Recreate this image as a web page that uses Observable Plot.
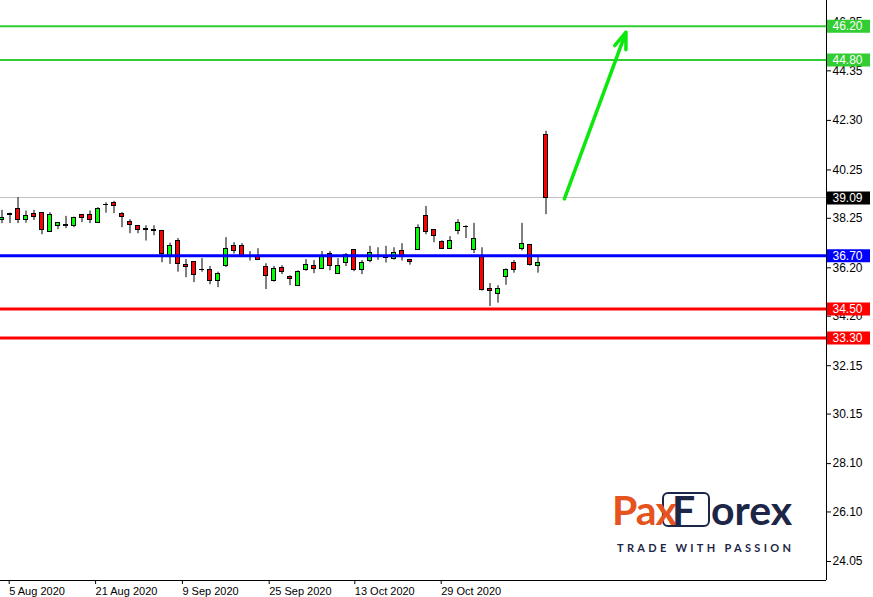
<!DOCTYPE html>
<html>
<head>
<meta charset="utf-8">
<script src="https://cdn.jsdelivr.net/npm/d3@7"></script>
<script src="https://cdn.jsdelivr.net/npm/@observablehq/plot@0.6"></script>
<style>
  html, body { margin: 0; padding: 0; background: #fff; }
  #wrap { position: relative; width: 873px; height: 597px; overflow: hidden; }
  #logo { position: absolute; left: 0; top: 0; width: 873px; height: 597px; pointer-events: none; font-family: Lato, "Open Sans", sans-serif; }
  #logo span, #logo div { position: absolute; white-space: nowrap; }
  #logo .pax { left: 612px; top: 486px; font-size: 41px; font-weight: 700; color: #e5531f; line-height: 48px; letter-spacing: -1px; }
  #logo .fbox { left: 662px; top: 492px; width: 44px; height: 31px; border: 2.5px solid #1d2646; border-radius: 6px; }
  #logo .f { left: 672px; top: 486px; font-size: 41px; font-weight: 700; color: #1d2646; line-height: 48px; }
  #logo .orex { left: 711px; top: 486px; font-size: 41px; font-weight: 700; color: #1d2646; line-height: 48px; letter-spacing: 0px; }
  #logo .tag { left: 617px; top: 541px; font-size: 11px; font-weight: 700; color: #1d2646; letter-spacing: 3.3px; line-height: 14px; }
</style>
</head>
<body>
<div id="wrap">
  <div id="chart"></div>
  <div id="logo">
    <div class="fbox"></div>
    <span class="pax">Pax</span><span class="f">F</span><span class="orex">orex</span>
    <div class="tag">TRADE WITH PASSION</div>
  </div>
</div>
<script>
// Daily candles (bar index 0..68)
const open  = [38.19,38.40,38.65,38.19,38.41,38.48,37.68,37.94,37.95,37.94,38.37,38.37,38.07,38.80,38.89,38.41,38.11,37.94,37.79,37.75,37.74,36.70,37.32,36.33,36.45,36.10,36.12,35.65,36.29,37.12,37.12,36.71,36.64,36.25,35.65,36.21,35.83,35.46,36.12,36.29,36.16,36.79,35.96,36.41,36.95,36.12,36.50,36.65,36.63,36.56,36.91,36.54,36.95,38.36,37.78,37.28,36.99,37.74,37.90,36.95,36.69,35.34,35.11,35.82,36.41,36.99,37.16,36.29,41.71];
const high  = [38.58,38.46,39.10,38.55,38.58,38.49,38.48,38.08,38.33,38.30,38.41,38.55,38.69,38.89,38.95,38.48,38.19,37.95,37.94,37.94,37.75,37.22,37.41,36.54,36.46,36.58,36.26,36.02,37.45,37.24,37.20,36.87,36.99,36.37,36.26,36.29,35.87,36.08,36.54,36.50,36.87,36.87,36.58,36.79,36.96,36.50,37.09,37.03,37.09,37.03,37.20,36.55,37.98,38.74,37.79,37.32,37.49,38.19,37.94,38.04,37.03,35.55,35.46,36.16,36.50,38.04,37.17,36.64,41.85];
const low   = [38.03,38.03,38.03,38.05,38.16,37.57,37.67,37.78,37.82,37.86,38.07,38.03,38.06,38.46,38.44,37.86,37.61,37.61,37.31,37.53,36.41,36.34,36.02,35.79,35.59,36.02,35.50,35.38,36.21,36.77,36.62,36.48,36.51,35.30,35.61,35.92,35.46,35.42,36.06,35.96,36.15,36.08,35.92,36.25,36.04,35.92,36.41,36.51,36.40,36.52,36.48,36.31,36.92,37.57,37.24,36.98,36.98,37.57,37.41,36.79,35.24,34.60,34.74,35.48,35.98,36.90,36.27,35.98,38.40];
const close = [38.27,38.41,38.19,38.33,38.32,37.78,38.37,38.07,37.96,38.27,38.27,38.19,38.65,38.81,38.77,38.32,37.98,37.78,37.78,37.74,36.79,37.12,36.34,36.25,35.92,36.09,35.65,35.96,36.99,36.91,36.70,36.70,36.54,35.87,36.16,36.04,35.75,36.04,36.33,36.16,36.70,36.29,36.29,36.74,36.12,36.41,36.83,36.64,36.62,36.83,36.64,36.45,37.86,37.70,37.53,36.99,37.32,38.07,37.89,37.41,35.28,35.26,35.34,36.12,36.12,37.20,36.33,36.41,39.09];

// Axis ticks
const xTickLabels = ["5 Aug 2020","21 Aug 2020","9 Sep 2020","25 Sep 2020","13 Oct 2020","29 Oct 2020"];
const xTickPos    = [0.9, 11.7, 22.55, 33.4, 44.1, 54.9];
const yTicks      = [24.05,26.10,28.10,30.15,32.15,34.20,36.20,38.25,40.25,42.30,44.35,46.35];

// Horizontal levels
const levelValues = [46.20, 44.80, 36.70, 34.50, 33.30];
const levelColors = ["#32cd32","#32cd32","#0000ff","#ff0000","#ff0000"];
const levelWidths = [2, 2, 3, 3, 3];
const lastPrice = 39.09;

// Forecast arrow (bar index / price)
const arrowFrom = [70.3, 39.05];
const arrowTo   = [78.0, 45.95];

const xDomain = [-0.1875, 103.0625];
const yDomain = [23.264, 47.261];

const bars = open.map((o, i) => ({i, o, h: high[i], l: low[i], c: close[i]}));
const levels = levelValues.map((v, k) => ({v, color: levelColors[k], w: levelWidths[k]}));
const priceLabels = [...levels.map(d => ({v: d.v, bg: d.color})), {v: lastPrice, bg: "#000000"}];

const chart = Plot.plot({
  width: 873,
  height: 597,
  marginLeft: 0,
  marginTop: 0,
  marginRight: 47,
  marginBottom: 17,
  x: {type: "linear", domain: xDomain},
  y: {domain: yDomain},
  style: {fontFamily: "'Liberation Sans', Arial, sans-serif", color: "#000", background: "#fff", overflow: "visible"},
  marks: [
    Plot.axisY({anchor: "right", ticks: yTicks, tickFormat: d => d.toFixed(2), tickSize: 4, tickPadding: 2, fontSize: 12, label: null}),
    Plot.axisX({ticks: xTickPos, tickFormat: d => xTickLabels[xTickPos.indexOf(d)], tickSize: 4, tickPadding: 3, textAnchor: "start", fontSize: 11, label: null}),
    Plot.ruleY([lastPrice], {stroke: "#c0c0c0", strokeWidth: 1, shapeRendering: "crispEdges"}),
    Plot.ruleX(bars, {x: "i", y1: "l", y2: "h", stroke: "#000", strokeWidth: 1}),
    Plot.rect(bars, {
      x1: d => d.i - 0.31, x2: d => d.i + 0.31,
      y1: d => Math.min(d.o, d.c), y2: d => Math.max(d.o, d.c),
      fill: d => d.c >= d.o ? "#00ff00" : "#ff0000",
      stroke: "#000", strokeWidth: 1, shapeRendering: "crispEdges"
    }),
    Plot.ruleY(levels, {y: "v", stroke: "color", strokeWidth: "w"}),
    Plot.arrow([{x1: arrowFrom[0], y1: arrowFrom[1], x2: arrowTo[0], y2: arrowTo[1]}], {
      x1: "x1", y1: "y1", x2: "x2", y2: "y2",
      stroke: "#0be80b", strokeWidth: 3.5, headLength: 7.5, headAngle: 40
    }),
    Plot.ruleX([xDomain[1]], {stroke: "#000", shapeRendering: "crispEdges"}),
    Plot.ruleY([yDomain[0]], {stroke: "#000", shapeRendering: "crispEdges"}),
    Plot.ruleY(priceLabels, {y: "v", stroke: "bg", strokeWidth: 13, insetLeft: 827, insetRight: -44}),
    Plot.text(priceLabels, {y: "v", text: d => d.v.toFixed(2), frameAnchor: "right", dx: 6, textAnchor: "start", fill: "#fff", fontSize: 12})
  ]
});
document.getElementById("chart").appendChild(chart);
</script>
</body>
</html>
